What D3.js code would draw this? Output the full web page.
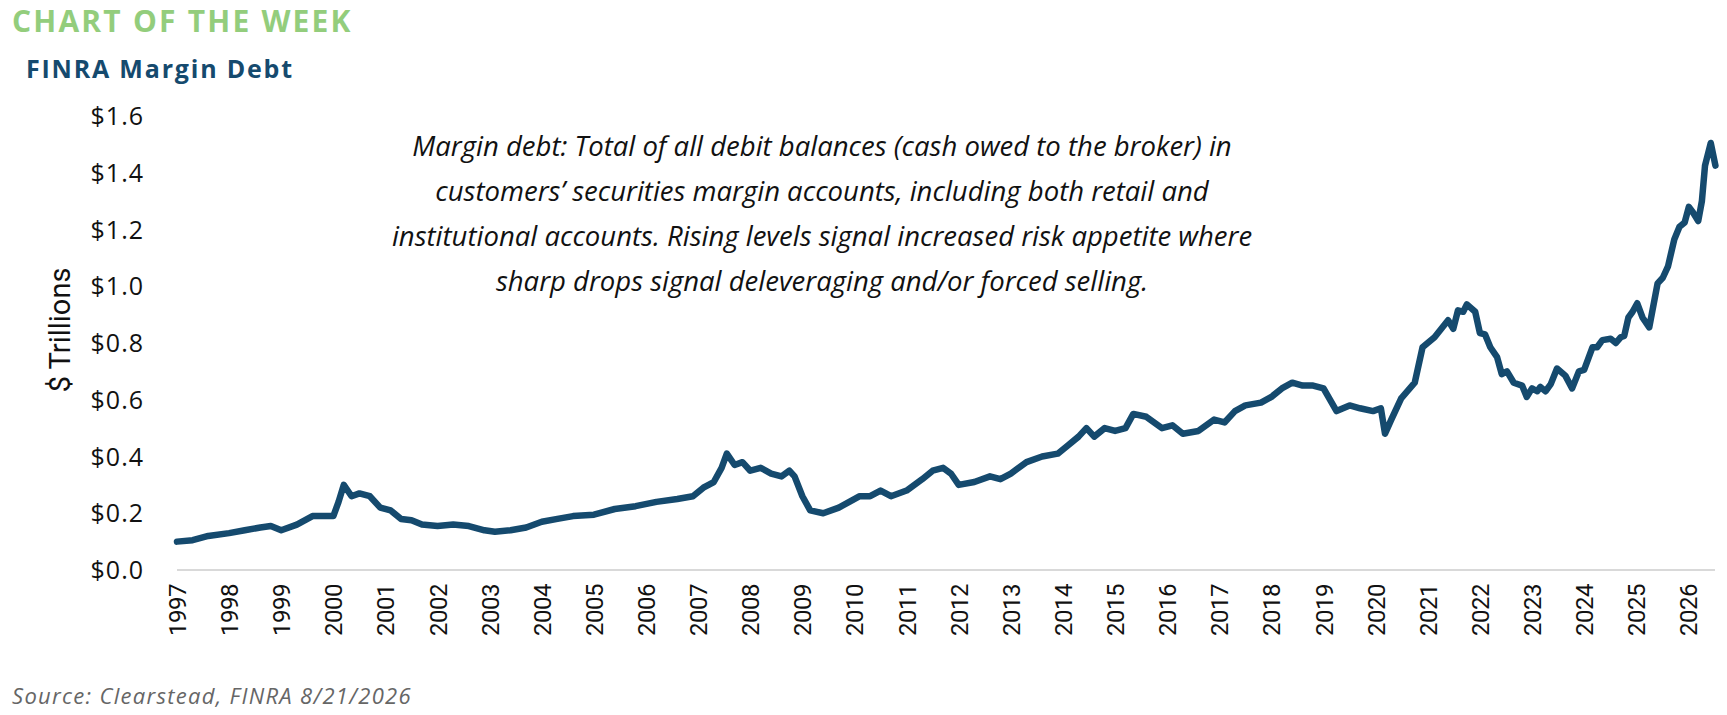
<!DOCTYPE html>
<html><head><meta charset="utf-8">
<script src="https://cdn.jsdelivr.net/npm/d3@7"></script>
<style>body{margin:0;background:#fff}svg{display:block}</style>
</head><body>
<svg id="c" width="1727" height="715"></svg>
<script>
const dates = [1997.0,1997.3,1997.6,1998.0,1998.3,1998.6,1998.8,1999.0,1999.3,1999.6,2000.0,2000.1,2000.2,2000.35,2000.5,2000.7,2000.9,2001.1,2001.3,2001.5,2001.7,2002.0,2002.3,2002.6,2002.9,2003.1,2003.4,2003.7,2004.0,2004.3,2004.6,2005.0,2005.4,2005.8,2006.2,2006.6,2006.9,2007.1,2007.3,2007.45,2007.55,2007.7,2007.85,2008.0,2008.2,2008.4,2008.6,2008.75,2008.85,2009.0,2009.15,2009.4,2009.7,2009.9,2010.1,2010.3,2010.5,2010.7,2011.0,2011.3,2011.5,2011.7,2011.85,2012.0,2012.3,2012.6,2012.8,2013.0,2013.3,2013.6,2013.9,2014.1,2014.3,2014.45,2014.6,2014.8,2015.0,2015.2,2015.35,2015.6,2015.9,2016.1,2016.3,2016.6,2016.9,2017.1,2017.3,2017.5,2017.8,2018.0,2018.2,2018.4,2018.6,2018.8,2019.0,2019.25,2019.5,2019.7,2019.95,2020.1,2020.18,2020.3,2020.49,2020.75,2020.9,2021.13,2021.26,2021.39,2021.49,2021.58,2021.68,2021.75,2021.91,2022.0,2022.1,2022.2,2022.33,2022.42,2022.52,2022.65,2022.81,2022.9,2023.0,2023.1,2023.16,2023.26,2023.36,2023.48,2023.64,2023.77,2023.9,2024.0,2024.16,2024.25,2024.35,2024.51,2024.61,2024.7,2024.77,2024.85,2024.93,2025.02,2025.12,2025.25,2025.41,2025.51,2025.61,2025.73,2025.83,2025.93,2026.01,2026.09,2026.19,2026.26,2026.32,2026.43,2026.52];
const debt = [0.10,0.105,0.12,0.13,0.14,0.15,0.155,0.14,0.16,0.19,0.19,0.24,0.30,0.26,0.27,0.26,0.22,0.21,0.18,0.175,0.16,0.155,0.16,0.155,0.14,0.135,0.14,0.15,0.17,0.18,0.19,0.195,0.215,0.225,0.24,0.25,0.26,0.29,0.31,0.36,0.41,0.37,0.38,0.35,0.36,0.34,0.33,0.35,0.33,0.26,0.21,0.20,0.22,0.24,0.26,0.26,0.28,0.26,0.28,0.32,0.35,0.36,0.34,0.30,0.31,0.33,0.32,0.34,0.38,0.40,0.41,0.44,0.47,0.50,0.47,0.50,0.49,0.50,0.55,0.54,0.50,0.51,0.48,0.49,0.53,0.52,0.56,0.58,0.59,0.61,0.64,0.66,0.65,0.65,0.64,0.56,0.58,0.57,0.56,0.57,0.48,0.53,0.605,0.66,0.785,0.82,0.85,0.88,0.85,0.915,0.91,0.936,0.91,0.835,0.83,0.785,0.75,0.69,0.70,0.66,0.65,0.61,0.64,0.63,0.645,0.63,0.655,0.71,0.685,0.64,0.70,0.705,0.785,0.785,0.81,0.815,0.80,0.82,0.825,0.89,0.91,0.94,0.89,0.855,1.01,1.03,1.07,1.165,1.21,1.225,1.28,1.26,1.23,1.30,1.425,1.505,1.425];
const yTicks = [0,0.2,0.4,0.6,0.8,1.0,1.2,1.4,1.6];
const years = d3.range(1997,2027);
const noteLines = ["Margin debt: Total of all debit balances (cash owed to the broker) in","customers\u2019 securities margin accounts, including both retail and","institutional accounts. Rising levels signal increased risk appetite where","sharp drops signal deleveraging and/or forced selling."];

const svg = d3.select("#c");
const x = d3.scaleLinear().domain([1997,2026.55]).range([177,1717]);
const y = d3.scaleLinear().domain([0,1.6]).range([570,116]);
const font = "'Open Sans', sans-serif";

svg.append("text").attr("x",12).attr("y",32).text("CHART OF THE WEEK")
  .attr("font-family",font).attr("font-weight",700).attr("font-size",30).attr("fill","#93cd7c").attr("letter-spacing",2.2);
svg.append("text").attr("x",26).attr("y",78).text("FINRA Margin Debt")
  .attr("font-family",font).attr("font-weight",700).attr("font-size",25).attr("fill","#154a6e").attr("letter-spacing",1.8);

svg.append("line").attr("x1",x(1997)).attr("x2",1715).attr("y1",y(0)).attr("y2",y(0)).attr("stroke","#d9d9d9").attr("stroke-width",2);

svg.selectAll(".yt").data(yTicks).enter().append("text")
  .attr("x",144).attr("y",d=>y(d)+9).attr("text-anchor","end")
  .attr("font-family",font).attr("font-size",25).attr("letter-spacing",1).attr("fill","#111")
  .text(d=>"$"+d.toFixed(1));

svg.selectAll(".xt").data(years).enter().append("text")
  .attr("transform",d=>`translate(${x(d)+9},${y(0)+14}) rotate(-90)`)
  .attr("text-anchor","end").attr("font-family","Roboto, sans-serif").attr("font-size",24).attr("fill","#111")
  .attr("letter-spacing",-0.5).text(d=>d);

svg.append("text").attr("transform",`translate(70,330) rotate(-90)`).attr("text-anchor","middle")
  .attr("font-family","Roboto, sans-serif").attr("font-size",29).attr("fill","#111").text("$ Trillions");

svg.selectAll(".note").data(noteLines).enter().append("text")
  .attr("x",822).attr("y",(d,i)=>156+i*45).attr("text-anchor","middle")
  .attr("font-family",font).attr("font-style","italic").attr("font-size",27.5).attr("fill","#111").text(d=>d);

const line = d3.line().x((d,i)=>x(dates[i])).y(d=>y(d));
svg.append("path").datum(debt).attr("d",line).attr("fill","none").attr("stroke","#154a6e")
  .attr("stroke-width",6.5).attr("stroke-linejoin","round").attr("stroke-linecap","round");

svg.append("text").attr("x",12).attr("y",704).text("Source: Clearstead, FINRA 8/21/2026")
  .attr("font-family",font).attr("font-style","italic").attr("font-size",22).attr("letter-spacing",1.3).attr("fill","#666");
</script>
</body></html>
